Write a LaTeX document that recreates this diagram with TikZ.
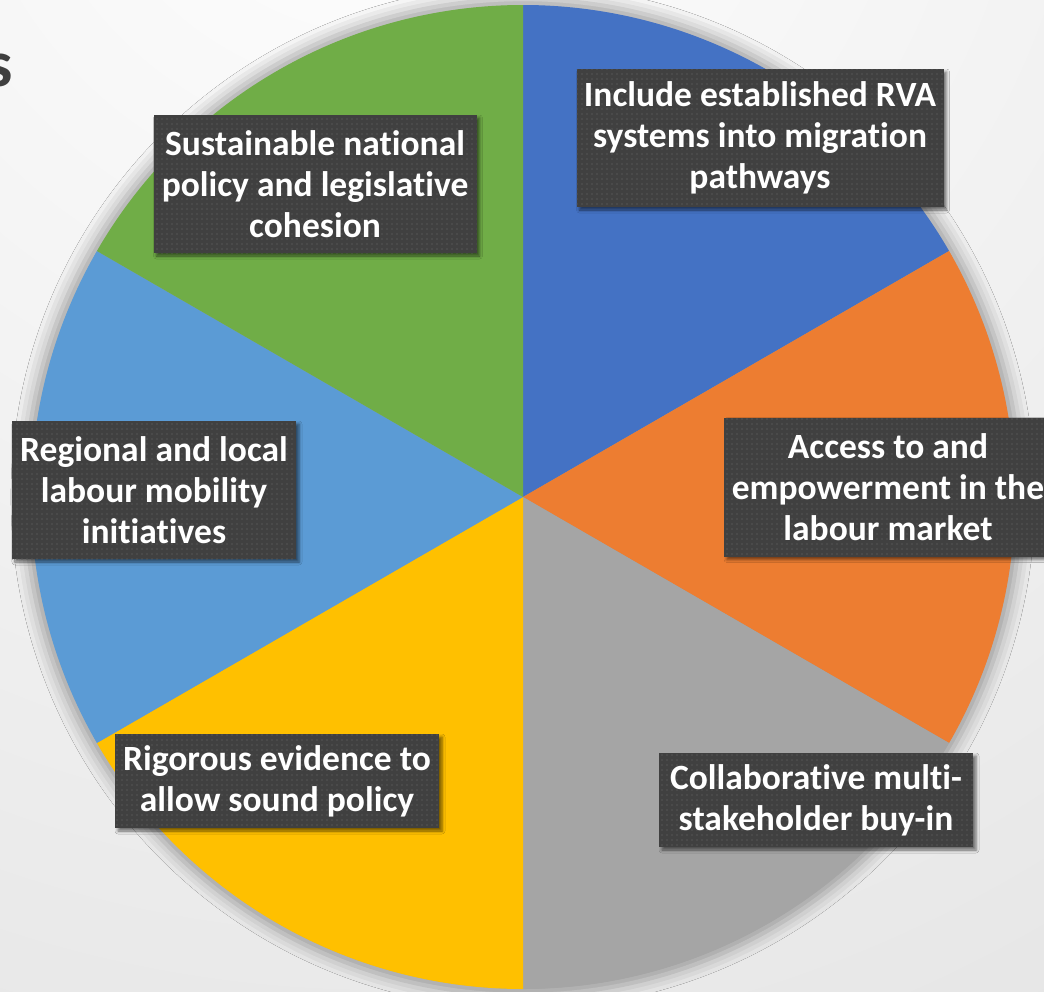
\documentclass[tikz,border=0pt]{standalone}
\usepackage{fontspec}
\setmainfont{Carlito}[Ligatures=NoCommon]
\usetikzlibrary{shadows.blur,patterns.meta}
\definecolor{pieblue}{HTML}{4472C4}
\definecolor{pieorange}{HTML}{ED7D31}
\definecolor{piegray}{HTML}{A5A5A5}
\definecolor{pieyellow}{HTML}{FFC000}
\definecolor{pielightblue}{HTML}{5B9BD5}
\definecolor{piegreen}{HTML}{70AD47}
\definecolor{boxgray}{HTML}{404040}
\definecolor{dotgray}{HTML}{585858}
\definecolor{bgouter}{HTML}{CFCFCF}
\definecolor{titlegray}{HTML}{3F3F3F}
\tikzdeclarepattern{
  name=sqdots,
  type=uncolored,
  bottom left={(0pt,0pt)},
  top right={(5pt,5pt)},
  tile size={(5pt,5pt)},
  code={\fill (1.5pt,1.5pt) rectangle (3pt,3pt);}
}
\tikzset{
  lbl/.style={
    blur shadow={shadow xshift=3pt, shadow yshift=-3pt, shadow blur radius=3pt, shadow opacity=55},
    preaction={fill=boxgray},
    pattern=sqdots, pattern color=dotgray,
    text=white, align=center, inner sep=0pt,
    font=\bfseries\fontsize{35.5}{41}\selectfont
  }
}
\begin{document}
\begin{tikzpicture}[x=1pt,y=-1pt]
\useasboundingbox (0,0) rectangle (1044,991);
\begin{scope}
  \clip (0,0) rectangle (1044,991);
  \shade[inner color=white, outer color=bgouter] (380,-220) circle (2700);
\end{scope}
\coordinate (c) at (523,497);
% pie shadow
\path[blur shadow={shadow xshift=0pt, shadow yshift=0pt, shadow scale=1.012, shadow blur radius=14pt, shadow opacity=35}] (c) circle (492);
% slices
\fill[pieblue] (c) -- ++(-90:492) arc[start angle=-90, end angle=-30, radius=492] -- cycle;
\fill[pieorange] (c) -- ++(-30:492) arc[start angle=-30, end angle=30, radius=492] -- cycle;
\fill[piegray] (c) -- ++(30:492) arc[start angle=30, end angle=90, radius=492] -- cycle;
\fill[pieyellow] (c) -- ++(90:492) arc[start angle=90, end angle=150, radius=492] -- cycle;
\fill[pielightblue] (c) -- ++(150:492) arc[start angle=150, end angle=210, radius=492] -- cycle;
\fill[piegreen] (c) -- ++(210:492) arc[start angle=210, end angle=270, radius=492] -- cycle;
% title fragment
\node[anchor=base east, inner sep=0pt, text=titlegray, font=\bfseries\fontsize{66}{70}\selectfont] (title) at (13,86) {s};
% labels
\node[lbl, minimum width=367, minimum height=138] (rva) at (760,138) {Include established RVA\\systems into migration\\pathways};
\node[lbl, minimum width=323, minimum height=138] (nat) at (315,184) {Sustainable national\\policy and legislative\\cohesion};
\node[lbl, minimum width=284, minimum height=138] (reg) at (154,490) {Regional and local\\labour mobility\\initiatives};
\node[lbl, minimum width=328, minimum height=139] (acc) at (888,487) {Access to and\\empowerment in the\\labour market};
\node[lbl, minimum width=324, minimum height=94] (rig) at (277,781) {Rigorous evidence to\\allow sound policy};
\node[lbl, minimum width=314, minimum height=94] (col) at (816,800) {Collaborative multi-\\stakeholder buy-in};
\end{tikzpicture}
\end{document}
